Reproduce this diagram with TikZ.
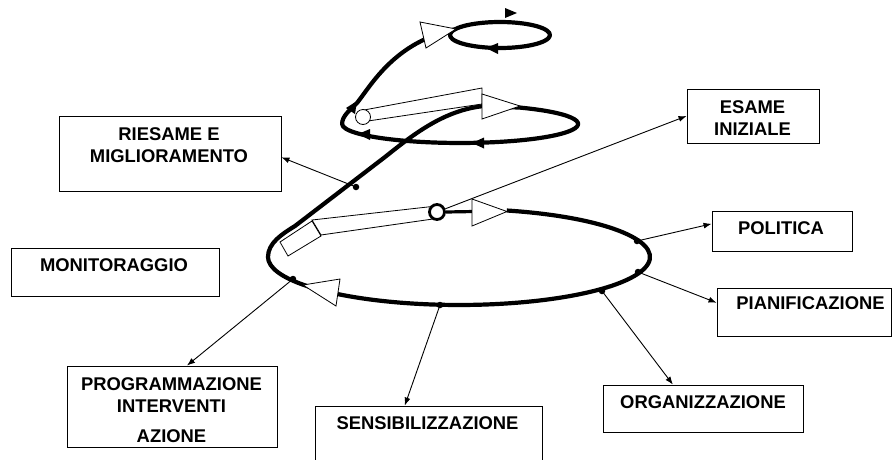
\documentclass[tikz,border=0pt]{standalone}
\usepackage{fontspec}
\setmainfont{Liberation Sans}
\usetikzlibrary{arrows.meta,calc}
\begin{document}
\begin{tikzpicture}[x=1pt,y=-1pt,
  box/.style={draw, line width=0.9pt, inner sep=0pt},
  lbl/.style={font=\bfseries\fontsize{18.4}{22}\selectfont, align=center, inner sep=0pt},
  spiral/.style={line width=4.2pt, line join=round},
  hollow/.style={draw, fill=white, line width=0.8pt, line join=miter},
  conn/.style={line width=0.9pt, -{Latex[length=8pt,width=6pt]}},
  dot/.style={circle, fill, inner sep=0pt, minimum size=6.5pt}]
\useasboundingbox (0,0) rectangle (895,459);
\clip (0,0) rectangle (895,459);

% the spiral: lower loop, rising branch, middle loop, upper loop
\draw[spiral] (506.8,210.5) arc[start angle=-75.5, end angle=180, x radius=191, y radius=48]
  .. controls (268,243) and (282,234) .. (295,226)
  -- (385,157)
  .. controls (415,133) and (445,110) .. (484,106)
  -- (520,107.6) arc[start angle=-59.5, end angle=180, x radius=118, y radius=19]
  .. controls (342,116) and (350,110) .. (357,103)
  .. controls (372,84) and (395,42) .. (455,29.3)
  arc[start angle=-154, end angle=206, x radius=50, y radius=13];

% direction marks on the spiral
\fill (486,48) -- (498,43) -- (498,54) -- cycle;
\fill (472,143) -- (484,137.5) -- (484,148.5) -- cycle;
\fill (358,134) -- (370,129) -- (370,140) -- cycle;
\fill (357,101) -- (355,114) -- (346,108) -- cycle;
\fill (517,13) -- (505,8) -- (505,18) -- cycle;

% lower tube with its end cap and ring
\filldraw[hollow] (312,220) -- (432,206.5) -- (433,219) -- (321,235) -- cycle;
\filldraw[hollow] (280,242) -- (312,221) -- (321,236) -- (288,256) -- cycle;
\node[circle, draw, fill=white, line width=2.8pt, minimum size=15pt, inner sep=0pt] (ring) at (437,212) {};
\draw[line width=3.2pt] (ring.east) -- (474,211.5);

% middle tube
\filldraw[hollow] (364,110) -- (482,88) -- (482,104) -- (368,121) -- cycle;
\node[circle, draw, fill=white, line width=0.8pt, minimum size=15pt, inner sep=0pt] (ringb) at (363,117) {};

% hollow arrowheads
\filldraw[hollow] (420,22) -- (426,48) -- (456,29) -- cycle;
\filldraw[hollow] (482,94) -- (482,119) -- (520,106) -- cycle;
\filldraw[hollow] (472,199) -- (472,226) -- (507,211.5) -- cycle;
\filldraw[hollow] (303,285) -- (340,279) -- (336,306) -- cycle;

% phase boxes
\node[box, minimum width=222pt, minimum height=75pt] (riesame) at (170,153.5) {};
\node[box, minimum width=208pt, minimum height=48pt] (monitor) at (115,272) {};
\node[box, minimum width=210pt, minimum height=81pt] (prog) at (172,406.5) {};
\node[box, minimum width=227pt, minimum height=74pt] (sens) at (428.5,443) {};
\node[box, minimum width=132pt, minimum height=54pt] (esame) at (753,116) {};
\node[box, minimum width=140pt, minimum height=40pt] (polit) at (782,231) {};
\node[box, minimum width=174pt, minimum height=48pt] (pian) at (804,312) {};
\node[box, minimum width=200pt, minimum height=47pt] (organ) at (703,408.5) {};

\node[lbl] at (169,145.5) {RIESAME E\\MIGLIORAMENTO};
\node[lbl] at (114,265) {MONITORAGGIO};
\node[lbl] at (171.5,410) {PROGRAMMAZIONE\\INTERVENTI\\[8pt]AZIONE};
\node[lbl] at (427.5,423) {SENSIBILIZZAZIONE};
\node[lbl] at (752.5,118) {ESAME\\INIZIALE};
\node[lbl] at (781,228) {POLITICA};
\node[lbl] at (810.5,303) {PIANIFICAZIONE};
\node[lbl] at (703,402) {ORGANIZZAZIONE};

% points on the spiral
\node[dot] (dr) at (356,187) {};
\node[dot] (dp) at (293,279) {};
\node[dot] (ds) at (440,305) {};
\node[dot] (do) at (602,291) {};
\node[dot] (dn) at (638,272) {};
\node[dot] (dl) at (637,241) {};

% connectors to the phases
\draw[conn] (ring) -- (esame.west);
\draw[conn] (dr.center) -- ($(riesame.north east)!0.55!(riesame.south east)$);
\draw[conn] (dp.center) -- ($(prog.north west)!0.571!(prog.north east)$);
\draw[conn] (ds.center) -- ($(sens.north west)!0.396!(sens.north east)$);
\draw[conn] (do.center) -- ($(organ.north west)!0.35!(organ.north east)$);
\draw[conn] (dn.center) -- ($(pian.north west)!0.31!(pian.south west)$);
\draw[conn] (dl.center) -- ($(polit.north west)!0.325!(polit.south west)$);
\end{tikzpicture}
\end{document}
